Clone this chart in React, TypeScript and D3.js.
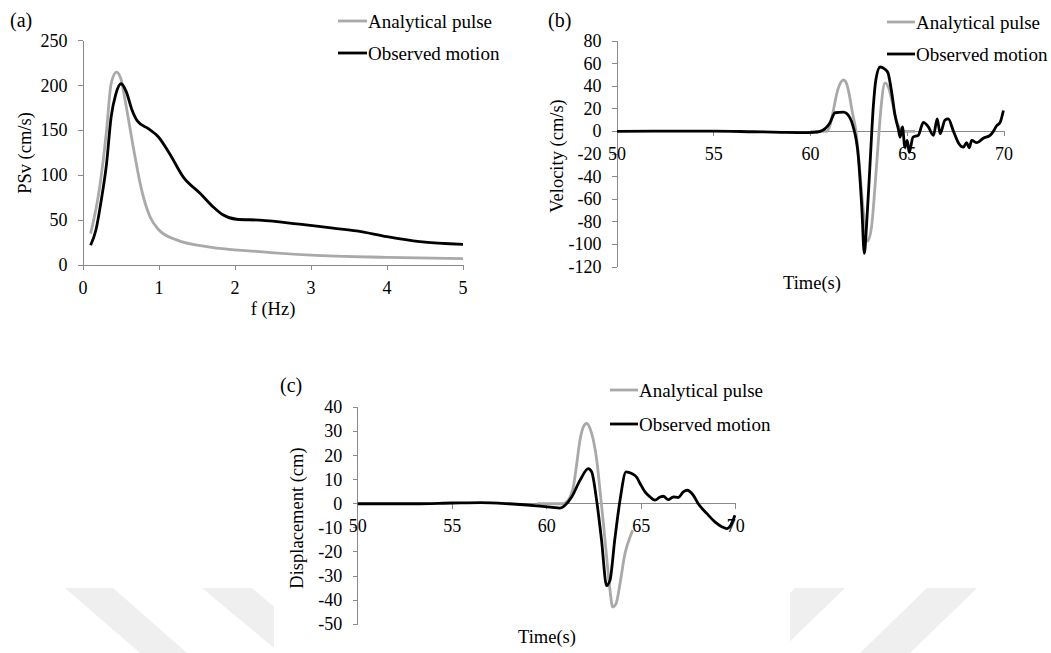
import React, { useEffect, useRef } from "react";
import * as d3 from "d3";

// (a) PSv spectra
const freqAnalytical = [0.1, 0.22, 0.31, 0.37, 0.44, 0.5, 0.57, 0.66, 0.77, 0.88, 1.0, 1.23, 1.67, 2.32, 3.0, 4.0, 5.0];
const psvAnalytical = [35, 87, 150, 202, 215, 207, 176, 132, 84, 54, 39, 28, 20, 15, 11, 8.5, 7];
const freqObserved = [0.1, 0.17, 0.24, 0.31, 0.37, 0.43, 0.5, 0.57, 0.64, 0.72, 0.86, 0.99, 1.14, 1.32, 1.54, 1.71, 1.84, 2.02, 2.32, 2.85, 3.29, 3.6, 4.0, 4.43, 5.0];
const psvObserved = [22, 39, 72, 113, 165, 190, 202, 193, 174, 160, 152, 143, 124, 98, 80, 65, 56, 51, 50, 45.5, 41, 38, 31.5, 26, 23];

// (b) velocity time histories
const velTimeAnalytical = [60, 60.85, 61.0, 61.2, 61.35, 61.55, 61.7, 61.85, 62.0, 62.15, 62.35, 62.5, 62.7, 62.95, 63.15, 63.35, 63.5, 63.65, 63.85, 64.05, 64.25, 64.45, 64.7, 64.9, 65.4];
const velAnalytical = [0, 0, 5, 20, 33, 43, 45.5, 43, 33, 18, 0, -25, -65, -97, -85, -45, -10, 22, 43, 38, 24, 9, 1, 0, 0];
const velTimeObserved = [50, 52, 55, 57, 58.5, 59.5, 60.2, 60.5, 61.0, 61.27, 61.7, 62.04, 62.2, 62.47, 62.65, 62.78, 62.9, 63.07, 63.25, 63.38, 63.6, 63.85, 64.0, 64.2, 64.37, 64.54, 64.63, 64.75, 64.88, 65.0, 65.1, 65.3, 65.57, 65.83, 66.09, 66.35, 66.55, 66.7, 66.95, 67.12, 67.38, 67.64, 67.9, 68.07, 68.2, 68.33, 68.6, 68.93, 69.28, 69.45, 69.62, 69.8, 69.97];
const velObserved = [0, 0.3, 0.3, -0.3, -0.8, -1, -0.8, 0, 7.5, 16.5, 17, 12, 4.5, -22, -67, -108, -82, -31, 23, 46, 57, 55, 52, 34, 14, 2, -5, 4, -14, -8, -18.5, -5, -3.5, 8, 4, -3.5, 11, -2, 10, 11, 0.5, -10, -14, -10, -14.5, -8, -10, -6, -3.5, 0, 5, 8, 18.5];

// (c) displacement time histories
const dispTimeAnalytical = [59.5, 60.8, 61.06, 61.23, 61.41, 61.59, 61.76, 61.94, 62.12, 62.29, 62.47, 62.65, 62.82, 63.0, 63.17, 63.35, 63.49, 63.67, 63.88, 64.14, 64.41, 64.55];
const dispAnalytical = [0, 0, 0.8, 2.8, 7, 16.7, 26.3, 31.9, 33.3, 31.2, 26.3, 18, 5.6, -8.2, -22, -35.9, -42.8, -41.4, -33.1, -20.7, -13.8, -11];
const dispTimeObserved = [50, 53, 55, 56.5, 58, 59.65, 60.3, 60.7, 60.97, 61.32, 61.76, 62.2, 62.38, 62.64, 62.9, 63.17, 63.35, 63.6, 63.88, 64.2, 64.5, 64.76, 64.94, 65.2, 65.47, 65.73, 66.0, 66.17, 66.43, 66.7, 66.96, 67.23, 67.44, 67.76, 68.02, 68.47, 68.9, 69.26, 69.52, 69.73, 69.96];
const dispObserved = [0, 0, 0.3, 0.5, 0, -1, -1.5, -1.8, -0.6, 2.8, 9.7, 14.6, 13.2, 1.5, -15, -34, -31.7, -15, 1.5, 13.2, 12.5, 11, 8.4, 4.9, 2.8, 1.5, 2.8, 3.1, 1.7, 2.8, 2.6, 4.9, 5.6, 3.5, 0, -4, -7.5, -9.5, -10.3, -9, -4.8];

const legendNames = ["Analytical pulse", "Observed motion"];
const freqTicks = [0, 1, 2, 3, 4, 5];
const psvTicks = [0, 50, 100, 150, 200, 250];
const timeTicks = [50, 55, 60, 65, 70];
const velTicks = [-120, -100, -80, -60, -40, -20, 0, 20, 40, 60, 80];
const dispTicks = [-50, -40, -30, -20, -10, 0, 10, 20, 30, 40];

const SERIF = "'Liberation Serif', 'Times New Roman', serif";
const GRAY = "#a9a9a9";
const AXIS = "#8a8a8a";

type Series = { xs: number[]; ys: number[]; color: string };
interface IPanel {
    tag: string;
    tagPos: [number, number];
    xDomain: [number, number];
    xRange: [number, number];
    yDomain: [number, number];
    yRange: [number, number];
    xTicks: number[];
    yTicks: number[];
    series: Series[];
    legendLine: [number, number];
    legendRows: [number, number];
    xTitle: string;
    xTitlePos: [number, number];
    yTitle: string;
    yTitlePos: [number, number];
}

const panels: IPanel[] = [
    {
        tag: "(a)", tagPos: [10, 27],
        xDomain: [0, 5], xRange: [83, 463],
        yDomain: [0, 250], yRange: [265, 40.7],
        xTicks: freqTicks, yTicks: psvTicks,
        series: [
            { xs: freqAnalytical, ys: psvAnalytical, color: GRAY },
            { xs: freqObserved, ys: psvObserved, color: "#000" }
        ],
        legendLine: [338, 367], legendRows: [21, 53],
        xTitle: "f (Hz)", xTitlePos: [273, 315],
        yTitle: "PSv (cm/s)", yTitlePos: [31, 153]
    },
    {
        tag: "(b)", tagPos: [548, 27],
        xDomain: [50, 70], xRange: [617, 1004],
        yDomain: [-120, 80], yRange: [267, 41],
        xTicks: timeTicks, yTicks: velTicks,
        series: [
            { xs: velTimeAnalytical, ys: velAnalytical, color: GRAY },
            { xs: velTimeObserved, ys: velObserved, color: "#000" }
        ],
        legendLine: [887, 915], legendRows: [22, 54],
        xTitle: "Time(s)", xTitlePos: [812, 289],
        yTitle: "Velocity (cm/s)", yTitlePos: [563, 156]
    },
    {
        tag: "(c)", tagPos: [280, 392],
        xDomain: [50, 70], xRange: [357.7, 735.7],
        yDomain: [-50, 40], yRange: [624.3, 407.3],
        xTicks: timeTicks, yTicks: dispTicks,
        series: [
            { xs: dispTimeAnalytical, ys: dispAnalytical, color: GRAY },
            { xs: dispTimeObserved, ys: dispObserved, color: "#000" }
        ],
        legendLine: [610, 638], legendRows: [390, 424],
        xTitle: "Time(s)", xTitlePos: [547, 643],
        yTitle: "Displacement (cm)", yTitlePos: [303, 518]
    }
];

function drawWatermark(svg: any) {
    const stripes: [number, number][][] = [
        [[65, 588], [113, 588], [187, 653], [140, 653]],
        [[202, 588], [252, 588], [328, 653], [280, 653]],
        [[795, 588], [845, 588], [778, 653], [728, 653]],
        [[927, 588], [977, 588], [910, 653], [860, 653]]
    ];
    stripes.forEach(pts =>
        svg.append("polygon")
            .attr("points", pts.map(p => p.join(",")).join(" "))
            .attr("fill", "#efefef")
    );
    // panel (c) sits on a white background over the watermark
    svg.append("rect").attr("x", 274).attr("y", 560).attr("width", 516).attr("height", 93).attr("fill", "#fff");
}

function drawPanel(svg: any, p: IPanel) {
    const x = d3.scaleLinear().domain(p.xDomain).range(p.xRange);
    const y = d3.scaleLinear().domain(p.yDomain).range(p.yRange);
    const g = svg.append("g").attr("font-family", SERIF).attr("fill", "#000");
    const x0 = x(p.xDomain[0]);
    const y0 = y(Math.max(p.yDomain[0], 0)); // x axis crosses at zero

    // y axis
    g.append("line").attr("x1", x0).attr("x2", x0).attr("y1", y(p.yDomain[0])).attr("y2", y(p.yDomain[1]))
        .attr("stroke", AXIS).attr("shape-rendering", "crispEdges");
    p.yTicks.forEach(t => {
        g.append("line").attr("x1", x0 - 5).attr("x2", x0).attr("y1", y(t)).attr("y2", y(t))
            .attr("stroke", AXIS).attr("shape-rendering", "crispEdges");
        g.append("text").attr("x", x0 - 15.5).attr("y", y(t) + 6).attr("text-anchor", "end")
            .attr("font-size", 18).text(String(t));
    });

    // x axis
    g.append("line").attr("x1", x0).attr("x2", x(p.xDomain[1])).attr("y1", y0).attr("y2", y0)
        .attr("stroke", AXIS).attr("shape-rendering", "crispEdges");
    p.xTicks.forEach(t => {
        g.append("line").attr("x1", x(t)).attr("x2", x(t)).attr("y1", y0).attr("y2", y0 + 5)
            .attr("stroke", AXIS).attr("shape-rendering", "crispEdges");
        g.append("text").attr("x", x(t)).attr("y", y0 + 28.5).attr("text-anchor", "middle")
            .attr("font-size", 18).text(String(t));
    });

    // series
    const line = d3.line<[number, number]>()
        .x(d => x(d[0]))
        .y(d => y(d[1]))
        .curve(d3.curveMonotoneX);
    p.series.forEach(s => {
        const pts = s.xs.map((v, i) => [v, s.ys[i]] as [number, number]);
        g.append("path").datum(pts).attr("d", line as any).attr("fill", "none")
            .attr("stroke", s.color).attr("stroke-width", 2.8).attr("stroke-linejoin", "round");
    });

    // legend
    p.series.forEach((s, i) => {
        const ly = p.legendRows[i];
        g.append("line").attr("x1", p.legendLine[0]).attr("x2", p.legendLine[1]).attr("y1", ly).attr("y2", ly)
            .attr("stroke", s.color).attr("stroke-width", 2.8);
        g.append("text").attr("x", p.legendLine[1] + 1).attr("y", ly + 6.5).attr("font-size", 19).text(legendNames[i]);
    });

    // titles
    g.append("text").attr("x", p.tagPos[0]).attr("y", p.tagPos[1]).attr("font-size", 20).text(p.tag);
    g.append("text").attr("x", p.xTitlePos[0]).attr("y", p.xTitlePos[1]).attr("text-anchor", "middle")
        .attr("font-size", 18.5).text(p.xTitle);
    g.append("text").attr("transform", `translate(${p.yTitlePos[0]},${p.yTitlePos[1]}) rotate(-90)`)
        .attr("text-anchor", "middle").attr("font-size", 18.5).text(p.yTitle);
}

export default function App() {
    const ref = useRef<SVGSVGElement>(null);

    useEffect(() => {
        const svg = d3.select(ref.current);
        svg.selectAll("*").remove();
        svg.append("rect").attr("width", 1051).attr("height", 653).attr("fill", "#fff");
        drawWatermark(svg);
        panels.forEach(p => drawPanel(svg, p));
    }, []);

    return (
        <div style={{ position: "absolute", left: 0, top: 0 }}>
            <svg ref={ref} width={1051} height={653} style={{ display: "block" }} />
        </div>
    );
}
